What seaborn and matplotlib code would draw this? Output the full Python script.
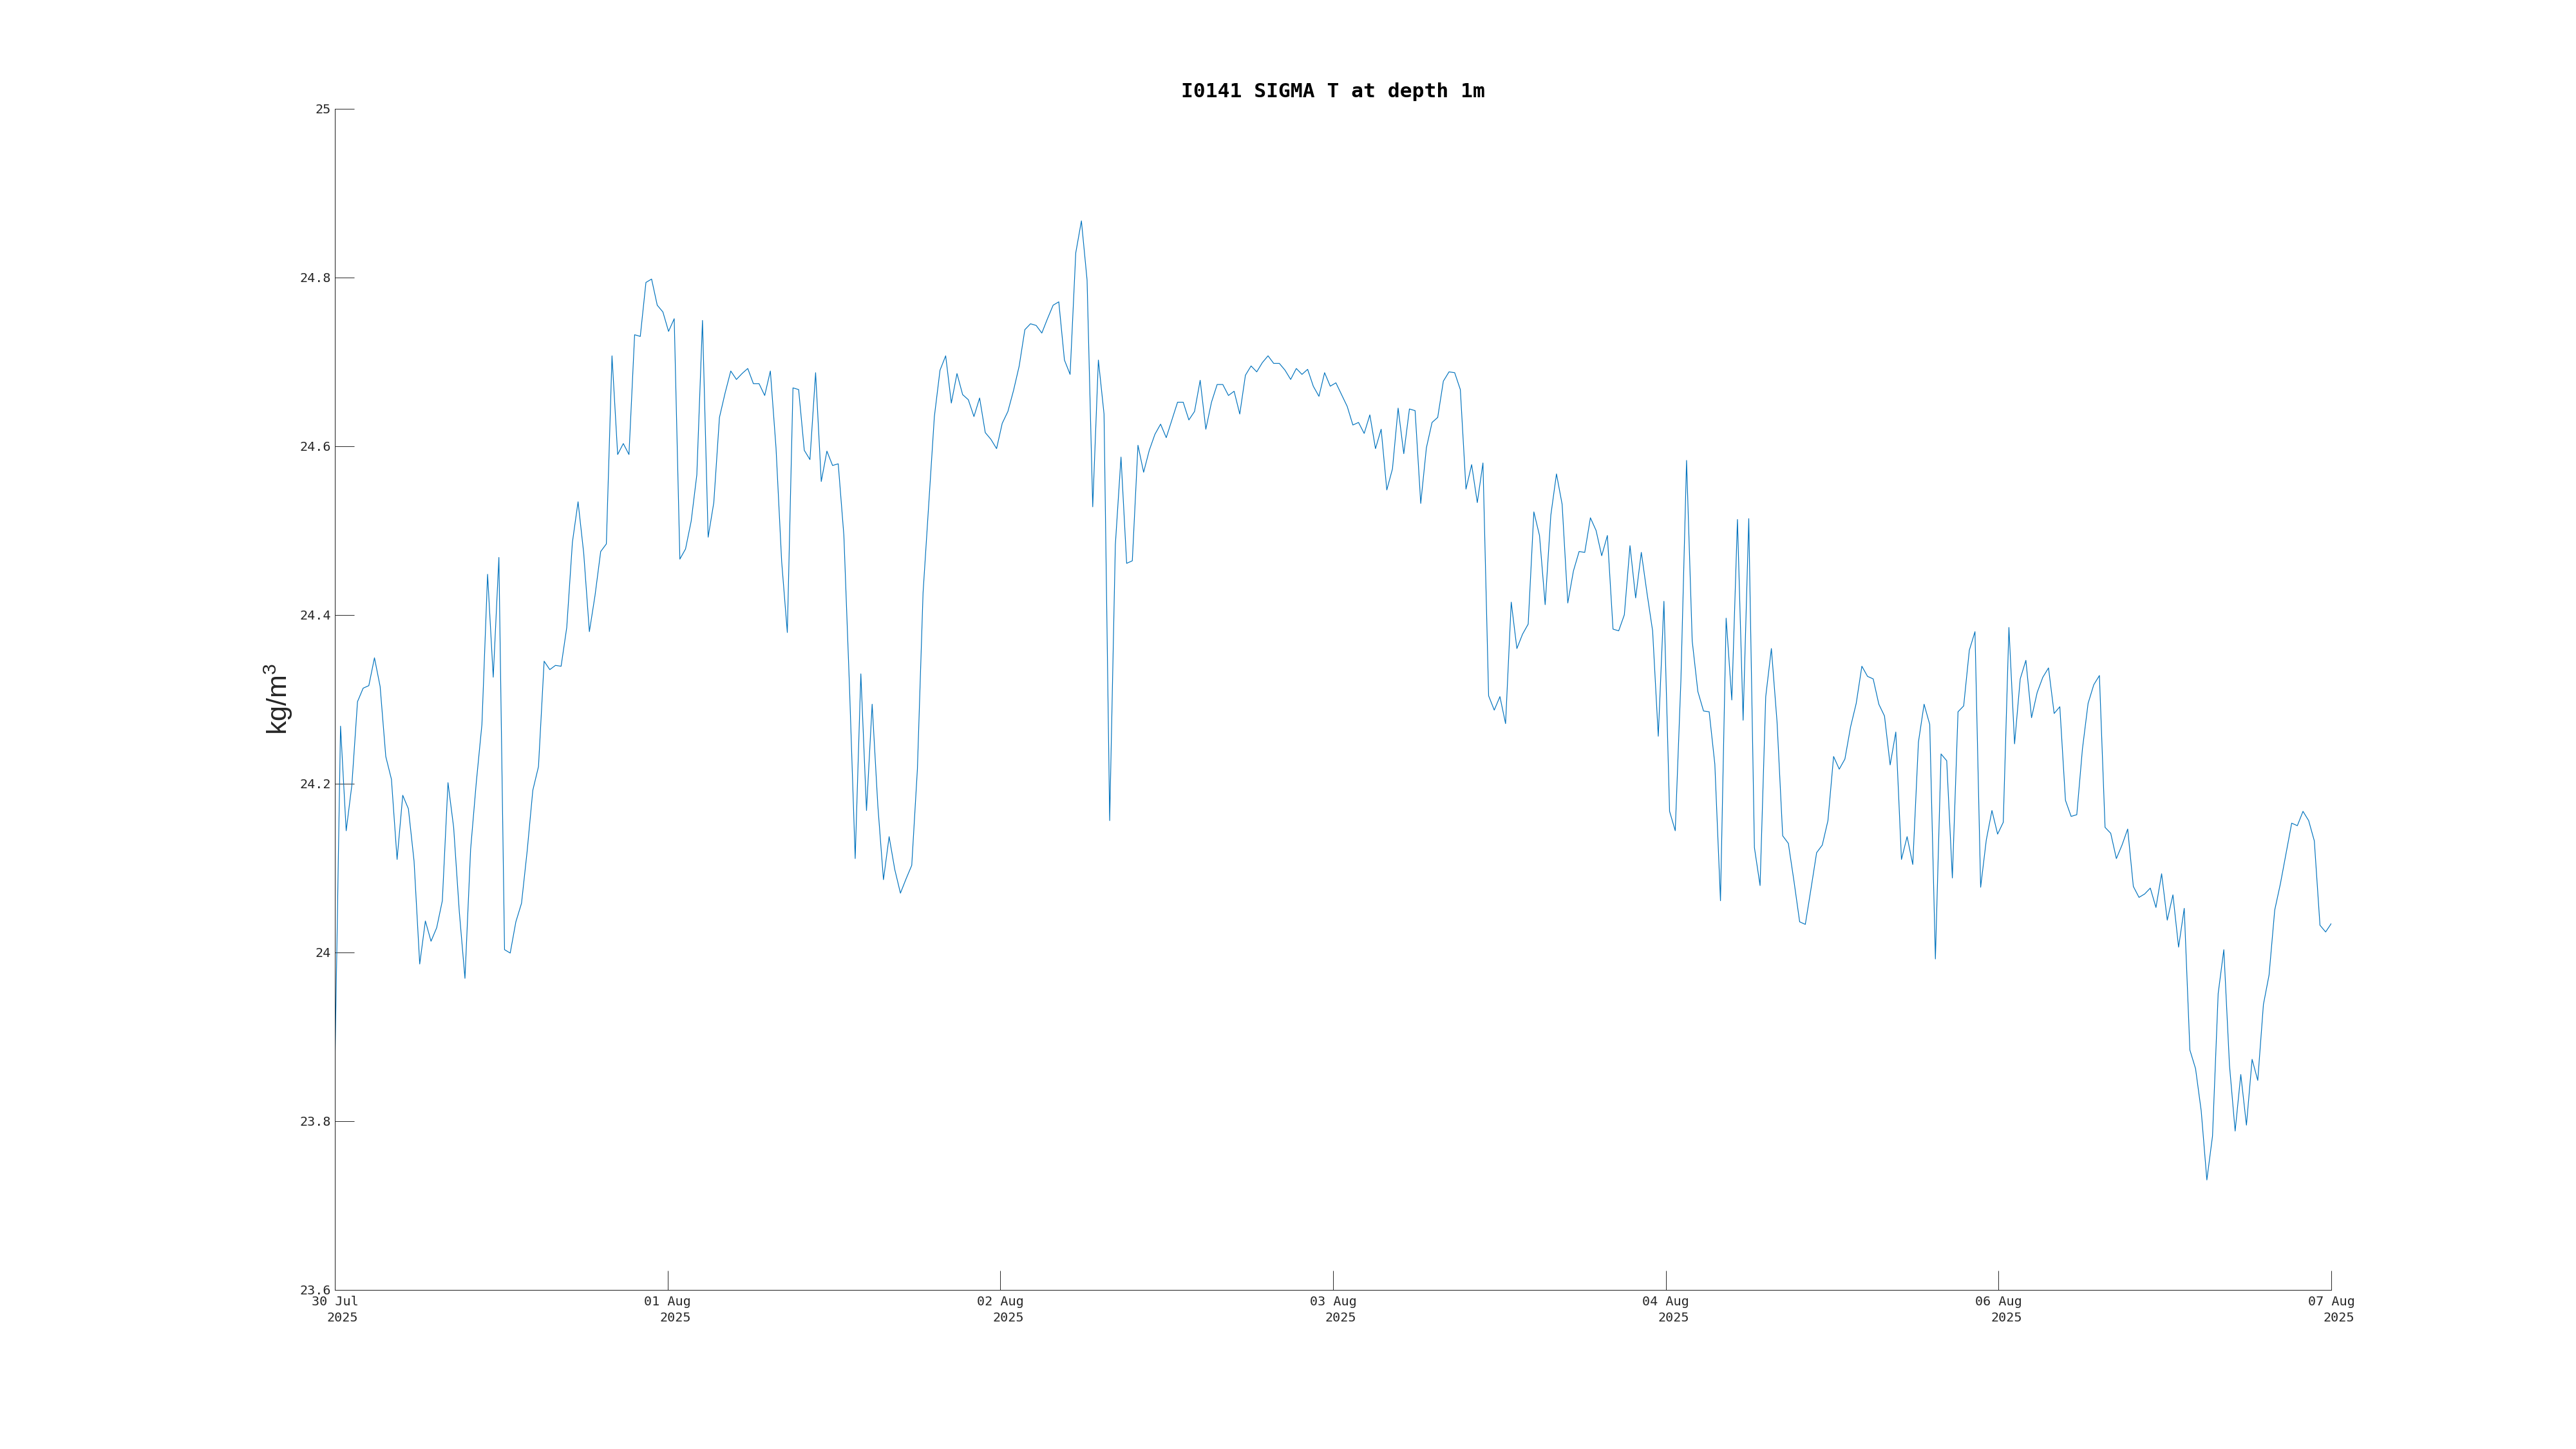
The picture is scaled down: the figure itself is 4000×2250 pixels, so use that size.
import numpy as np
import pandas as pd
import matplotlib
matplotlib.use("Agg")
import matplotlib.pyplot as plt
import matplotlib.dates as mdates
import matplotlib.ticker as mticker
import seaborn as sns

sns.set_style("white")
plt.rcParams["font.family"] = ["DejaVu Sans Mono", "DejaVu Sans"]
plt.rcParams["mathtext.fontset"] = "custom"
plt.rcParams["mathtext.rm"] = "Liberation Sans"
plt.rcParams["mathtext.it"] = "Liberation Sans:italic"

LINE_BLUE = "#0072BD"
AXIS_GREY = "#262626"

# ------------------------------------------------------------------
# sigma-t readings, half-hourly
# ------------------------------------------------------------------
START = "2025-07-30 21:30"

sigma_t_day1 = [
    23.863, 24.268, 24.144, 24.198, 24.297, 24.313, 24.316, 24.349, 24.315, 24.232,
    24.205, 24.110, 24.186, 24.170, 24.108, 23.986, 24.037, 24.013, 24.029, 24.061,
    24.201, 24.148, 24.048, 23.969, 24.122, 24.201, 24.270, 24.448, 24.326, 24.468,
    24.003, 23.999, 24.036, 24.058, 24.120, 24.192, 24.220, 24.345, 24.335, 24.340,
    24.339, 24.385, 24.486, 24.534, 24.473, 24.380, 24.423, 24.475, 24.484, 24.707,
    24.590, 24.603, 24.590, 24.732, 24.730, 24.794, 24.798, 24.767, 24.759,
]
sigma_t_day2 = [
    24.736, 24.751, 24.466, 24.478, 24.511, 24.566, 24.749, 24.492, 24.533, 24.634,
    24.663, 24.689, 24.679, 24.686, 24.692, 24.674, 24.674, 24.660, 24.689, 24.598,
    24.463, 24.379, 24.669, 24.667, 24.595, 24.584, 24.687, 24.558, 24.594, 24.577,
    24.579, 24.494, 24.313, 24.111, 24.330, 24.168, 24.294, 24.174, 24.086, 24.137,
    24.098, 24.070, 24.087, 24.103, 24.217, 24.426, 24.530, 24.635, 24.690, 24.707,
    24.651, 24.686, 24.661, 24.655, 24.635, 24.657, 24.616, 24.608, 24.597,
]
sigma_t_day3 = [
    24.627, 24.641, 24.666, 24.695, 24.738, 24.745, 24.743, 24.734, 24.751, 24.767,
    24.771, 24.702, 24.685, 24.829, 24.867, 24.797, 24.528, 24.702, 24.638, 24.156,
    24.483, 24.587, 24.461, 24.464, 24.601, 24.569, 24.595, 24.614, 24.626, 24.610,
    24.631, 24.652, 24.652, 24.631, 24.641, 24.678, 24.620, 24.652, 24.673, 24.673,
    24.660, 24.665, 24.638, 24.684, 24.695, 24.688, 24.699, 24.707, 24.698, 24.698,
    24.690, 24.679, 24.692, 24.685, 24.691, 24.671, 24.659, 24.687, 24.671,
]
sigma_t_day4 = [
    24.675, 24.661, 24.647, 24.625, 24.628, 24.615, 24.637, 24.597, 24.620, 24.548,
    24.573, 24.645, 24.591, 24.644, 24.642, 24.532, 24.598, 24.628, 24.634, 24.677,
    24.688, 24.687, 24.667, 24.549, 24.578, 24.533, 24.580, 24.304, 24.287, 24.303,
    24.271, 24.415, 24.360, 24.377, 24.389, 24.522, 24.494, 24.412, 24.518, 24.567,
    24.531, 24.414, 24.452, 24.475, 24.474, 24.515, 24.500, 24.470, 24.494, 24.383,
    24.381, 24.400, 24.482, 24.420, 24.474, 24.426, 24.381, 24.256, 24.416,
]
sigma_t_day5 = [
    24.167, 24.144, 24.322, 24.583, 24.369, 24.309, 24.286, 24.285, 24.223, 24.061,
    24.396, 24.299, 24.513, 24.275, 24.514, 24.124, 24.079, 24.303, 24.360, 24.273,
    24.138, 24.129, 24.084, 24.036, 24.033, 24.075, 24.118, 24.127, 24.156, 24.232,
    24.217, 24.229, 24.267, 24.295, 24.339, 24.327, 24.324, 24.294, 24.280, 24.222,
    24.261, 24.110, 24.137, 24.104, 24.249, 24.294, 24.270, 23.992, 24.235, 24.227,
    24.088, 24.285, 24.292, 24.358, 24.380, 24.077, 24.133, 24.168, 24.140, 24.154,
]
sigma_t_day6 = [
    24.385, 24.247, 24.324, 24.346, 24.278, 24.308, 24.326, 24.337, 24.283, 24.291,
    24.180, 24.161, 24.163, 24.241, 24.295, 24.317, 24.328, 24.148, 24.141, 24.111,
    24.127, 24.146, 24.078, 24.065, 24.069, 24.076, 24.053, 24.093, 24.038, 24.068,
    24.006, 24.052, 23.884, 23.862, 23.812, 23.730, 23.782, 23.951, 24.003, 23.866,
    23.788, 23.855, 23.795, 23.873, 23.848, 23.938, 23.973, 24.050, 24.081, 24.117,
    24.153, 24.150, 24.167, 24.156, 24.132, 24.032, 24.024, 24.034,
]

tick_labels = ["30 Jul\n2025", "01 Aug\n2025", "02 Aug\n2025", "03 Aug\n2025",
               "04 Aug\n2025", "06 Aug\n2025", "07 Aug\n2025"]
y_ticks = [23.6, 23.8, 24.0, 24.2, 24.4, 24.6, 24.8, 25.0]

sigma_t = (sigma_t_day1 + sigma_t_day2 + sigma_t_day3
           + sigma_t_day4 + sigma_t_day5 + sigma_t_day6)
times = pd.date_range(START, periods=len(sigma_t), freq="30min")
df = pd.DataFrame({"time": times, "sigma_t": sigma_t})

# ------------------------------------------------------------------
# plot
# ------------------------------------------------------------------
fig = plt.figure(figsize=(40, 22.5), dpi=100)
ax = fig.add_axes([0.13, 0.11, 0.775, 0.815])

sns.lineplot(data=df, x="time", y="sigma_t", color=LINE_BLUE, linewidth=0.85, ax=ax)

ax.set_xlim(times[0], times[-1])
ax.set_ylim(y_ticks[0], y_ticks[-1])

tick_pos = pd.date_range(times[0], times[-1], periods=len(tick_labels))
ax.set_xticks(mdates.date2num(tick_pos.to_pydatetime()))
ax.set_xticklabels(tick_labels)
ax.set_yticks(y_ticks)
ax.yaxis.set_major_formatter(mticker.FuncFormatter(lambda v, _: f"{v:g}"))

for side in ["top", "right"]:
    ax.spines[side].set_visible(False)
for side in ["left", "bottom"]:
    ax.spines[side].set_color(AXIS_GREY)
    ax.spines[side].set_linewidth(0.75)

ax.tick_params(axis="both", which="major", direction="in", length=21.6, width=0.7,
               color=AXIS_GREY, labelsize=14.5, labelcolor=AXIS_GREY,
               bottom=True, left=True, top=False, right=False)
ax.tick_params(axis="y", pad=4.3)
ax.tick_params(axis="x", pad=7)
for lbl in ax.get_xticklabels():
    lbl.set_linespacing(1.4)
    lbl.set_multialignment("right")
    lbl.set_family("DejaVu Sans Mono")
for lbl in ax.get_yticklabels():
    lbl.set_family("DejaVu Sans Mono")

ax.set_xlabel("")
ax.set_ylabel("kg/m$^3$", fontsize=31, family="Liberation Sans", color=AXIS_GREY, labelpad=6)
ax.set_title("I0141 SIGMA T at depth 1m", fontsize=22.5, fontweight="bold",
             family="DejaVu Sans Mono", color="black", pad=13)

fig.savefig("out.png", dpi=100, facecolor="white")
